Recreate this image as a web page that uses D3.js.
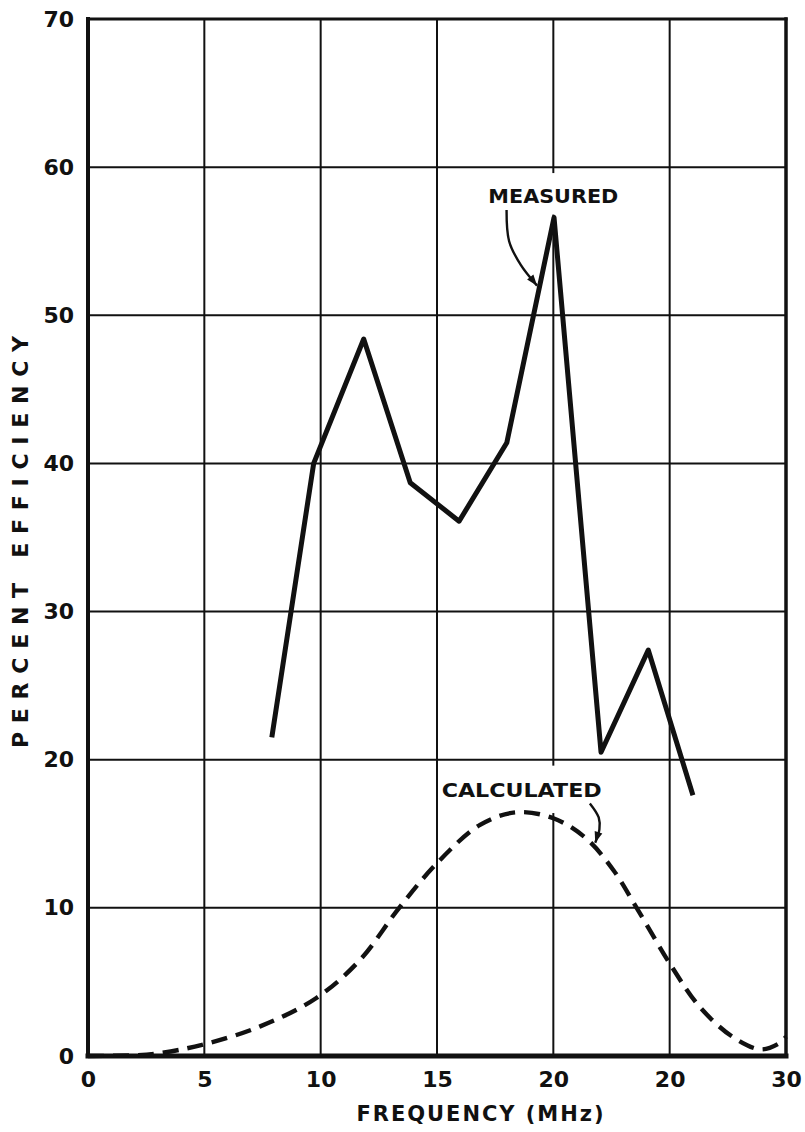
<!DOCTYPE html>
<html>
<head>
<meta charset="utf-8">
<script src="https://cdn.jsdelivr.net/npm/d3@7"></script>
<style>
  html, body { margin: 0; padding: 0; background: #fff; }
  svg { display: block; }
  text { font-family: "DejaVu Sans", "Liberation Sans", sans-serif; font-weight: bold; fill: #111; }
</style>
</head>
<body>
<svg id="chart" width="805" height="1132"></svg>
<script>
// Efficiency versus frequency: measured (solid) and calculated (dashed)
const xTickValues = [0, 5, 10, 15, 20, 25, 30];
const xTickLabels = ["0", "5", "10", "15", "20", "20", "30"];
const yTickValues = [0, 10, 20, 30, 40, 50, 60, 70];
const yTickLabels = ["0", "10", "20", "30", "40", "50", "60", "70"];

const measuredFreq = [7.9, 9.7, 11.85, 13.85, 15.95, 18.0, 20.03, 22.05, 24.08, 26.0];
const measuredEff  = [21.5, 40.0, 48.4, 38.7, 36.1, 41.4, 56.6, 20.5, 27.4, 17.6];

const calcFreq = [0, 2, 3, 4.9, 7.4, 9.8, 11.7, 13.35, 15.05, 16.85, 18.4, 20.0, 21.4, 22.6, 23.6, 25.1, 26.3, 27.7, 28.9, 29.7, 30];
const calcEff  = [0, 0.05, 0.18, 0.75, 2.0, 3.9, 6.5, 9.95, 13.1, 15.6, 16.45, 16.05, 14.7, 12.5, 9.95, 6.0, 3.3, 1.3, 0.45, 0.85, 1.3];

const svg = d3.select("#chart");
const plotL = 88, plotR = 786, plotT = 19, plotB = 1056;

const x = d3.scaleLinear().domain([0, 30]).range([plotL, plotR]);
const y = d3.scaleLinear().domain([0, 70]).range([plotB, plotT]);

// grid
const grid = svg.append("g").attr("stroke", "#111").attr("stroke-width", 2);
grid.selectAll("line.h").data(yTickValues).join("line")
  .attr("class", "h")
  .attr("x1", plotL).attr("x2", plotR)
  .attr("y1", d => y(d)).attr("y2", d => y(d));
grid.selectAll("line.v").data(xTickValues).join("line")
  .attr("class", "v")
  .attr("y1", plotT).attr("y2", plotB)
  .attr("x1", d => x(d)).attr("x2", d => x(d));

// white space left around the curve labels
svg.append("rect").attr("x", x(17.2)).attr("y", y(59.6)).attr("width", x(22.6) - x(17.2)).attr("height", y(56.8) - y(59.6)).attr("fill", "#fff");
svg.append("rect").attr("x", x(15.3)).attr("y", y(19.6)).attr("width", x(22.3) - x(15.3)).attr("height", y(16.4) - y(19.6)).attr("fill", "#fff");

// frame
const frame = svg.append("g").attr("stroke", "#111").attr("stroke-linecap", "square");
frame.append("line").attr("x1", plotL).attr("x2", plotR).attr("y1", plotT).attr("y2", plotT).attr("stroke-width", 3);
frame.append("line").attr("x1", plotR).attr("x2", plotR).attr("y1", plotT).attr("y2", plotB).attr("stroke-width", 3.5);
frame.append("line").attr("x1", plotL).attr("x2", plotL).attr("y1", plotT).attr("y2", plotB).attr("stroke-width", 4);
frame.append("line").attr("x1", plotL).attr("x2", plotR).attr("y1", plotB).attr("y2", plotB).attr("stroke-width", 5);

// axes (labels only)
const xAxis = d3.axisBottom(x).tickValues(xTickValues).tickSize(0).tickPadding(15)
  .tickFormat((d, i) => xTickLabels[i]);
const gx = svg.append("g").attr("transform", `translate(0,${plotB})`).call(xAxis);
gx.select(".domain").remove();
gx.selectAll("text").attr("font-size", 22).attr("font-family", "DejaVu Sans").attr("font-weight", "bold").attr("fill", "#111");

const yAxis = d3.axisLeft(y).tickValues(yTickValues).tickSize(0).tickPadding(14)
  .tickFormat((d, i) => yTickLabels[i]);
const gy = svg.append("g").attr("transform", `translate(${plotL},0)`).call(yAxis);
gy.select(".domain").remove();
gy.selectAll("text").attr("font-size", 22).attr("font-family", "DejaVu Sans").attr("font-weight", "bold").attr("fill", "#111");

// calculated curve
const calcData = calcFreq.map((f, i) => [f, calcEff[i]]);
svg.append("path")
  .datum(calcData)
  .attr("fill", "none").attr("stroke", "#111").attr("stroke-width", 4.4)
  .attr("stroke-dasharray", "16,9")
  .attr("d", d3.line().x(d => x(d[0])).y(d => y(d[1])).curve(d3.curveCatmullRom));

// measured curve
const measData = measuredFreq.map((f, i) => [f, measuredEff[i]]);
svg.append("path")
  .datum(measData)
  .attr("fill", "none").attr("stroke", "#111").attr("stroke-width", 5)
  .attr("stroke-linejoin", "round")
  .attr("d", d3.line().x(d => x(d[0])).y(d => y(d[1])));

// curve labels
svg.append("text").attr("x", x(20.0)).attr("y", y(57.6)).attr("text-anchor", "middle")
  .attr("font-size", 20).attr("textLength", 130).attr("lengthAdjust", "spacingAndGlyphs")
  .text("MEASURED");
svg.append("text").attr("x", x(18.64)).attr("y", y(17.5)).attr("text-anchor", "middle")
  .attr("font-size", 20).attr("textLength", 160).attr("lengthAdjust", "spacingAndGlyphs")
  .text("CALCULATED");

// leader arrows
const arrowLine = d3.line().x(d => x(d[0])).y(d => y(d[1])).curve(d3.curveCatmullRom);
const measArrow = [[17.99, 57.1], [18.1, 55.0], [18.6, 53.4], [19.3, 52.0]];
const calcArrow = [[21.57, 17.05], [21.95, 16.1], [21.98, 15.3], [21.8, 14.4]];
[measArrow, calcArrow].forEach(pts => {
  svg.append("path").datum(pts).attr("fill", "none").attr("stroke", "#111")
    .attr("stroke-width", 2.4).attr("d", arrowLine);
  const a = pts[pts.length - 1], b = pts[pts.length - 2];
  const ax = x(a[0]), ay = y(a[1]), bx = x(b[0]), by = y(b[1]);
  const ang = Math.atan2(ay - by, ax - bx);
  const L = 11, W = 4;
  const p1 = [ax - L * Math.cos(ang) + W * Math.sin(ang), ay - L * Math.sin(ang) - W * Math.cos(ang)];
  const p2 = [ax - L * Math.cos(ang) - W * Math.sin(ang), ay - L * Math.sin(ang) + W * Math.cos(ang)];
  svg.append("path").attr("fill", "#111")
    .attr("d", `M${ax},${ay}L${p1[0]},${p1[1]}L${p2[0]},${p2[1]}Z`);
});

// axis titles
svg.append("text").attr("x", 480).attr("y", 1121).attr("text-anchor", "middle")
  .attr("font-size", 21).attr("textLength", 247).attr("lengthAdjust", "spacing")
  .text("FREQUENCY  (MHz)");
svg.append("text").attr("transform", "translate(28,542) rotate(-90)").attr("text-anchor", "middle")
  .attr("font-size", 22).attr("textLength", 412).attr("lengthAdjust", "spacing")
  .text("PERCENT EFFICIENCY");
</script>
</body>
</html>
